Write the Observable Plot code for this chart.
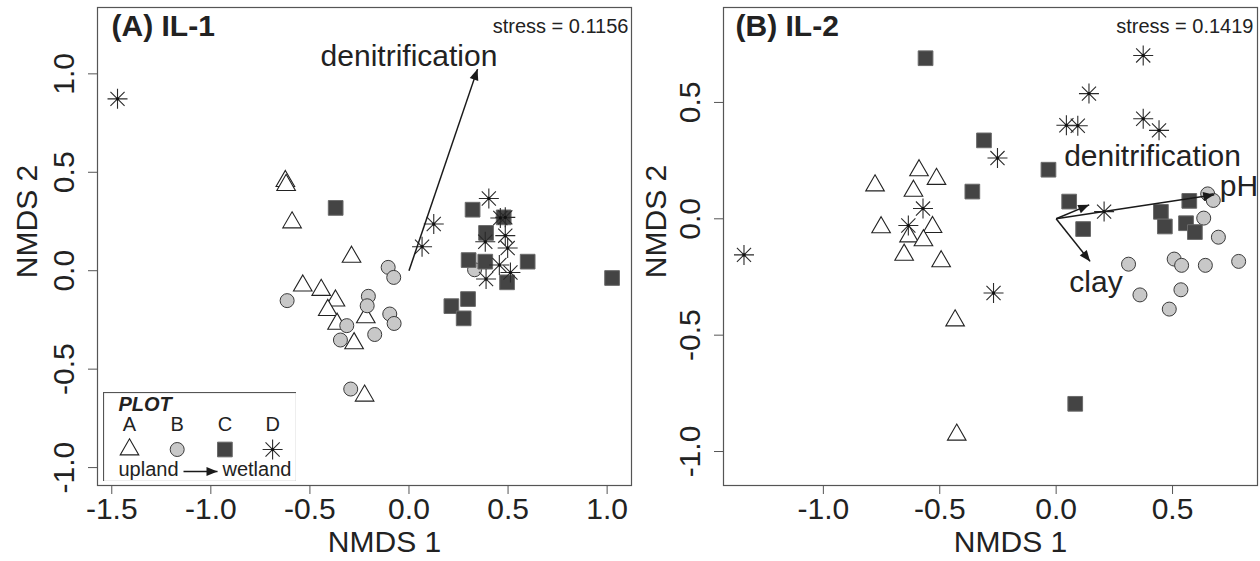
<!DOCTYPE html>
<html><head><meta charset="utf-8">
<script src="https://cdn.jsdelivr.net/npm/d3@7"></script>
<script src="https://cdn.jsdelivr.net/npm/@observablehq/plot@0.6"></script>
<style>
body{margin:0;background:#fff;width:1260px;height:561px;overflow:hidden;font-family:"Liberation Sans",Arial,sans-serif}
#a{position:absolute;left:0;top:0}
#b{position:absolute;left:640px;top:0}
#leg{position:absolute;left:103px;top:392px}
</style></head><body>
<div id="a"></div><div id="b"></div><div id="leg"></div>
<script>
// ---------- data ----------
const plotCats = ["A", "B", "C", "D"];
const legendFoot = ["upland", "wetland"];

// (A) IL-1 : [NMDS1, NMDS2]
const il1_A = [[-0.624,0.455],[-0.62,0.435],[-0.59,0.245],[-0.29,0.07],[-0.536,-0.076],[-0.443,-0.098],[-0.371,-0.152],[-0.41,-0.2],[-0.363,-0.27],[-0.218,-0.237],[-0.277,-0.369],[-0.224,-0.635]];
const il1_B = [[-0.615,-0.152],[-0.105,0.017],[-0.077,-0.034],[-0.205,-0.13],[-0.211,-0.178],[-0.097,-0.22],[-0.075,-0.268],[-0.314,-0.279],[-0.173,-0.324],[-0.346,-0.352],[-0.294,-0.601],[0.331,0.005]];
const il1_C = [[-0.37,0.319],[0.321,0.31],[0.389,0.192],[0.478,0.271],[0.301,0.054],[0.385,0.046],[0.599,0.046],[0.495,-0.059],[1.025,-0.037],[0.298,-0.144],[0.214,-0.18],[0.276,-0.242]];
const il1_D = [[-1.471,0.873],[0.066,0.122],[0.125,0.237],[0.403,0.367],[0.461,0.268],[0.486,0.271],[0.385,0.147],[0.486,0.178],[0.498,0.115],[0.456,0.029],[0.512,-0.009],[0.389,-0.042]];
const il1_vectors = [{name:"denitrification", x:0.346, y:1.024}];
const il1_vecLabels = [{text:"denitrification", x:0.0, y:1.087}];
const il1_xTicks = [-1.5,-1.0,-0.5,0.0,0.5,1.0];
const il1_yTicks = [-1.0,-0.5,0.0,0.5,1.0];
const il1_stress = "stress = 0.1156";

// (B) IL-2
const il2_A = [[-0.589,0.208],[-0.514,0.171],[-0.778,0.143],[-0.613,0.12],[-0.752,-0.037],[-0.531,-0.036],[-0.632,-0.076],[-0.57,-0.093],[-0.653,-0.155],[-0.494,-0.183],[-0.434,-0.437],[-0.427,-0.928]];
const il2_B = [[0.651,0.107],[0.675,0.079],[0.634,0.003],[0.697,-0.079],[0.311,-0.195],[0.507,-0.173],[0.539,-0.2],[0.641,-0.2],[0.784,-0.183],[0.36,-0.327],[0.536,-0.305],[0.486,-0.388]];
const il2_C = [[-0.561,0.69],[-0.31,0.337],[-0.36,0.117],[-0.033,0.211],[0.056,0.074],[0.116,-0.044],[0.082,-0.795],[0.45,0.03],[0.467,-0.033],[0.572,0.077],[0.558,-0.019],[0.596,-0.057]];
const il2_D = [[-1.341,-0.155],[-0.635,-0.029],[-0.572,0.044],[-0.252,0.261],[-0.269,-0.319],[0.044,0.402],[0.093,0.4],[0.141,0.538],[0.374,0.702],[0.374,0.43],[0.442,0.38],[0.206,0.031]];
const il2_vectors = [{name:"denitrification", x:0.142, y:0.06},{name:"pH", x:0.679, y:0.103},{name:"clay", x:0.146, y:-0.183}];
const il2_vecLabels = [{text:"denitrification", x:0.414, y:0.268},{text:"pH", x:0.785, y:0.139},{text:"clay", x:0.171, y:-0.272}];
const il2_xTicks = [-1.0,-0.5,0.0,0.5];
const il2_yTicks = [-1.0,-0.5,0.0,0.5];
const il2_stress = "stress = 0.1419";

// ---------- styling ----------
const FONT = "Liberation Sans, Arial, Helvetica, sans-serif";
const fmt = d => d.toFixed(1);
const star = {draw(ctx, size){const r=Math.sqrt(size/Math.PI), d=r/Math.SQRT2;
  ctx.moveTo(-r,0);ctx.lineTo(r,0);ctx.moveTo(0,-r);ctx.lineTo(0,r);
  ctx.moveTo(-d,-d);ctx.lineTo(d,d);ctx.moveTo(-d,d);ctx.lineTo(d,-d);}};
const head = {draw(ctx){ctx.moveTo(0,0);ctx.lineTo(-4.5,11);ctx.lineTo(4.5,11);ctx.closePath();}};
const symStyle = {
  A: {symbol:"triangle", r:6.9, fill:"white", stroke:"#222", strokeWidth:1.1},
  B: {symbol:"circle", r:7, fill:"#c8c8c8", stroke:"#3a3a3a", strokeWidth:1},
  C: {symbol:"square", r:8.3, fill:"#444", stroke:"#6a6a6a", strokeWidth:1},
  D: {symbol:star, r:10, fill:"none", stroke:"#2a2a2a", strokeWidth:1.1}
};
const dots = (data, cat) => Plot.dot(data, {x:d=>d[0], y:d=>d[1], ...symStyle[cat]});
const starCentres = data => Plot.dot(data, {x:d=>d[0], y:d=>d[1], r:1.6, fill:"#111", stroke:"none"});

function panel(o){
  return Plot.plot({
    width:o.width, height:561, marginLeft:o.ml, marginRight:o.mr, marginTop:7, marginBottom:76,
    style:{fontFamily:FONT, color:"#222", background:"white"},
    x:{domain:o.xd}, y:{domain:o.yd},
    marks:[
      Plot.frame({stroke:"#555", strokeWidth:1.2}),
      Plot.axisX({ticks:o.xt, tickFormat:fmt, tickSize:9, tickPadding:3, fontSize:30, label:null, stroke:"#555"}),
      Plot.axisY({ticks:o.yt, tickFormat:()=>"", tickSize:9, label:null, stroke:"#555"}),
      Plot.text(o.yt, {y:d=>d, text:fmt, frameAnchor:"left", rotate:-90, dx:-33, fontSize:30, textAnchor:"middle", lineAnchor:"middle"}),
      Plot.text(["NMDS 1"], {frameAnchor:"bottom", dx:20, dy:57, fontSize:30, textAnchor:"middle", lineAnchor:"middle"}),
      Plot.text(["NMDS 2"], {frameAnchor:"left", rotate:-90, dx:o.ylx, dy:-25, fontSize:30, textAnchor:"middle", lineAnchor:"middle"}),
      Plot.text([o.title], {frameAnchor:"top-left", dx:o.tdx, dy:19, fontSize:30, fontWeight:"bold", textAnchor:"start", lineAnchor:"middle"}),
      Plot.text([o.stress], {frameAnchor:"top-right", dx:o.sdx, dy:19, fontSize:20, textAnchor:"end", lineAnchor:"middle"}),
      dots(o.pts[0],"A"), dots(o.pts[1],"B"), dots(o.pts[2],"C"), dots(o.pts[3],"D"), starCentres(o.pts[3]),
      Plot.link(o.vec, {x1:0, y1:0, x2:"x", y2:"y", stroke:"#1a1a1a", strokeWidth:1.5}),
      Plot.dot(o.vec, {x:"x", y:"y", symbol:head, r:5, fill:"#1a1a1a", stroke:"none", rotate:d=>Math.atan2(d.x, d.y)*180/Math.PI}),
      Plot.text(o.lab, {x:"x", y:"y", text:"text", fontSize:30, lineAnchor:"middle", fill:"#222"})
    ]
  });
}

document.getElementById("a").append(panel({
  width:640, ml:97, mr:9, xd:[-1.572,1.123], yd:[-1.091,1.337], xt:il1_xTicks, yt:il1_yTicks,
  title:"(A) IL-1", stress:il1_stress, tdx:14, sdx:-3, ylx:-70,
  pts:[il1_A, il1_B, il1_C, il1_D], vec:il1_vectors, lab:il1_vecLabels
}));
document.getElementById("b").append(panel({
  width:620, ml:83, mr:3, xd:[-1.429,0.865], yd:[-1.146,0.908], xt:il2_xTicks, yt:il2_yTicks,
  title:"(B) IL-2", stress:il2_stress, tdx:12, sdx:-4, ylx:-67,
  pts:[il2_A, il2_B, il2_C, il2_D], vec:il2_vectors, lab:il2_vecLabels
}));

// ---------- legend ----------
const legX = plotCats.map((c,i) => ({cat:c, x:26 + i*47.7}));
document.getElementById("leg").append(Plot.plot({
  width:193, height:89, margin:0,
  style:{fontFamily:FONT, color:"#222", background:"white"},
  x:{type:"identity"}, y:{type:"identity"},
  marks:[
    Plot.frame({stroke:"#555", strokeWidth:1.2}),
    Plot.text(["PLOT"], {x:15, y:12, fontSize:20, fontWeight:"bold", fontStyle:"italic", textAnchor:"start", lineAnchor:"middle"}),
    Plot.text(legX, {x:"x", y:32, text:"cat", fontSize:20, lineAnchor:"middle"}),
    ...legX.map(d => Plot.dot([d], {x:"x", y:57, ...symStyle[d.cat]})),
    Plot.dot(legX.filter(d => d.cat === "D"), {x:"x", y:57, r:1.6, fill:"#111", stroke:"none"}),
    Plot.text([legendFoot[0]], {x:15, y:77, fontSize:20, textAnchor:"start", lineAnchor:"middle"}),
    Plot.text([legendFoot[1]], {x:119, y:77, fontSize:20, textAnchor:"start", lineAnchor:"middle"}),
    Plot.link([{x1:80, x2:114}], {x1:"x1", x2:"x2", y1:79, y2:79, stroke:"#1a1a1a", strokeWidth:1.5}),
    Plot.dot([{x:114}], {x:"x", y:79, symbol:head, r:5, rotate:90, fill:"#1a1a1a", stroke:"none"})
  ]
}));
</script>
</body></html>
